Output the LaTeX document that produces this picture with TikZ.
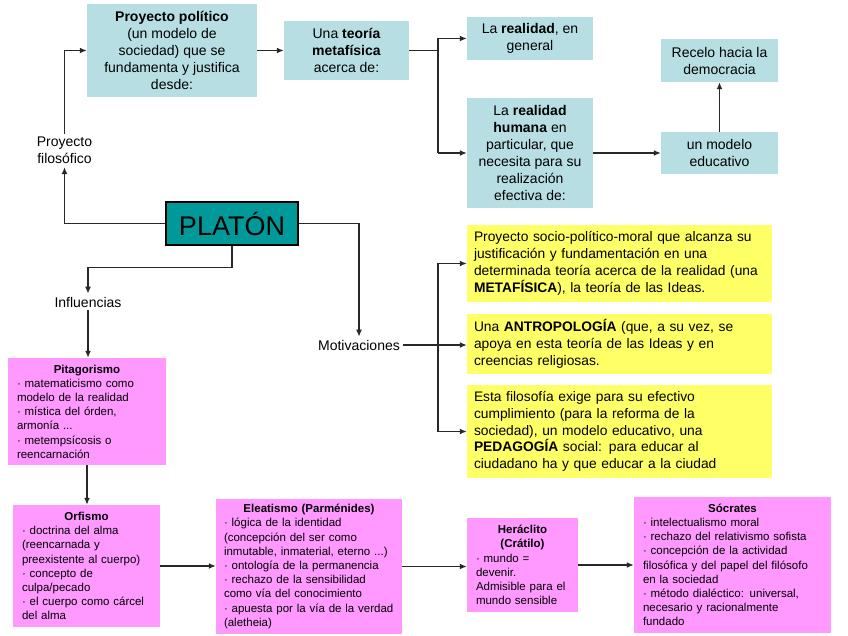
\documentclass[tikz,border=0pt]{standalone}
\usepackage{fontspec}
\setmainfont{Liberation Sans}
\usetikzlibrary{arrows.meta}
\definecolor{cblue}{RGB}{183,223,227}
\definecolor{cpink}{RGB}{255,153,255}
\definecolor{cyel}{RGB}{255,255,102}
\definecolor{cteal}{RGB}{0,153,153}
\definecolor{cline}{RGB}{40,40,40}
\newcommand{\ttl}[1]{\makebox[\linewidth]{\textbf{#1}}}
\begin{document}
\begin{tikzpicture}[x=1pt,y=-1pt,
  bluebox/.style={fill=cblue, draw=none, inner sep=0pt, align=center, font=\fontsize{14}{17}\selectfont},
  yelbox/.style={fill=cyel, draw=none, inner xsep=7pt, inner ysep=0pt, text width=291pt, minimum width=305pt, align=left, font=\fontsize{13.8}{16.8}\selectfont},
  pinkbox/.style={fill=cpink, draw=none, inner xsep=9pt, inner ysep=0pt, align=left, font=\fontsize{11.5}{14.2}\selectfont},
  lbl/.style={inner sep=3pt, align=center, font=\fontsize{14}{17}\selectfont},
  platon/.style={fill=cteal, draw=black, line width=1.5pt, inner sep=0pt, font=\fontsize{27}{30}\selectfont},
  con/.style={draw=cline, line width=1.4pt},
  arr/.style={con, -{Latex[length=7pt,width=6pt]}}
]
\useasboundingbox (0,0) rectangle (848,636);

% blue boxes
\node[bluebox, minimum width=170pt, minimum height=93pt] (pp) at (172,50.5)
  {\textbf{Proyecto político}\\(un modelo de\\sociedad) que se\\fundamenta y justifica\\desde:};
\node[bluebox, minimum width=125pt, minimum height=59pt] (tm) at (346.5,50.5)
  {Una \textbf{teoría}\\\textbf{metafísica}\\acerca de:};
\node[bluebox, minimum width=126pt, minimum height=43pt] (rg) at (530,38.5)
  {La \textbf{realidad}, en\\general};
\node[bluebox, minimum width=126pt, minimum height=110pt] (rh) at (530,153)
  {La \textbf{realidad}\\\textbf{humana} en\\particular, que\\necesita para su\\realización\\efectiva de:};
\node[bluebox, minimum width=117pt, minimum height=43pt] (rc) at (719.5,60.5)
  {Recelo hacia la\\democracia};
\node[bluebox, minimum width=117pt, minimum height=42pt] (me) at (719.5,153)
  {un modelo\\educativo};

% Platon
\node[platon, minimum width=132pt, minimum height=43pt] (pl) at (232,223.5) {PLATÓN};

% labels
\node[lbl] (pf) at (64.5,150.5) {Proyecto\\filosófico};
\node[lbl] (inf) at (88,302) {Influencias};
\node[lbl] (mo) at (359,345) {Motivaciones};

% yellow boxes
\node[yelbox, minimum height=77pt] (y1) at (619.5,263.5)
  {Proyecto socio-político-moral que alcanza su\\justificación y fundamentación en una\\determinada teoría acerca de la realidad (una\\\textbf{METAFÍSICA}), la teoría de las Ideas.};
\node[yelbox, minimum height=60pt] (y2) at (619.5,344)
  {Una \textbf{ANTROPOLOGÍA} (que, a su vez, se\\apoya en esta teoría de las Ideas y en\\creencias religiosas.};
\node[yelbox, minimum height=93pt] (y3) at (619.5,431.5)
  {Esta filosofía exige para su efectivo\\cumplimiento (para la reforma de la\\sociedad), un modelo educativo, una\\\textbf{PEDAGOGÍA} social: para educar al\\ciudadano ha y que educar a la ciudad};

% pink boxes
\node[pinkbox, text width=140pt, minimum height=107pt] (pit) at (87,411.5)
  {\ttl{Pitagorismo}\\· matematicismo como\\modelo de la realidad\\· mística del órden,\\armonía ...\\· metempsícosis o\\reencarnación};
\node[pinkbox, text width=129pt, minimum height=122pt] (orf) at (86.5,566)
  {\ttl{Orfismo}\\· doctrina del alma\\(reencarnada y\\preexistente al cuerpo)\\· concepto de\\culpa/pecado\\· el cuerpo como cárcel\\del alma};
\node[pinkbox, text width=170pt, inner xsep=8pt, minimum height=135pt] (ele) at (309,566.5)
  {\ttl{Eleatismo (Parménides)}\\· lógica de la identidad\\(concepción del ser como\\inmutable, inmaterial, eterno ...)\\· ontología de la permanencia\\· rechazo de la sensibilidad\\como vía del conocimiento\\· apuesta por la vía de la verdad\\(aletheia)};
\node[pinkbox, text width=93pt, minimum height=94pt] (her) at (522.5,565)
  {\ttl{Heráclito}\\\ttl{(Crátilo)}\\· mundo =\\devenir.\\Admisible para el\\mundo sensible};
\node[pinkbox, text width=179pt, minimum height=136pt] (soc) at (732.5,565)
  {\ttl{Sócrates}\\· intelectualismo moral\\· rechazo del relativismo sofista\\· concepción de la actividad\\filosófica y del papel del filósofo\\en la sociedad\\· método dialéctico: universal,\\necesario y racionalmente\\fundado};

% coordinates for brackets
\coordinate (b1) at (438,50.5);
\coordinate (b2) at (438,345);

% connectors
\draw[arr] (pl.west) -| (pf.south);
\draw[arr] (pf.north) |- (pp.west);
\draw[arr] (pp.east) -- (tm.west);
\draw[con] (tm.east) -- (b1);
\draw[con] (b1 |- rg.west) -- (b1 |- rh.west);
\draw[arr] (b1 |- rg.west) -- (rg.west);
\draw[arr] (b1 |- rh.west) -- (rh.west);
\draw[arr] (rh.east) -- (me.west);
\draw[arr] (me.north) -- (rc.south);
\draw[arr] (pl.east) -| (mo.north);
\draw[arr] (pl.south) -- ++(0,22) -| (inf.north);
\draw[arr] (inf.south) -- (inf.south |- pit.north);
\draw[arr] (pit.south) -- (pit.south |- orf.north);
\draw[con] (mo.east) -- (b2);
\draw[con] (b2 |- y1.west) -- (b2 |- y3.west);
\draw[arr] (b2 |- y1.west) -- (y1.west);
\draw[arr] (b2) -- (b2 -| y2.west);
\draw[arr] (b2 |- y3.west) -- (y3.west);
\draw[arr] (orf.east) -- (orf.east -| ele.west);
\draw[arr] (ele.east) -- (ele.east -| her.west);
\draw[arr] (her.east) -- (her.east -| soc.west);
\end{tikzpicture}
\end{document}
